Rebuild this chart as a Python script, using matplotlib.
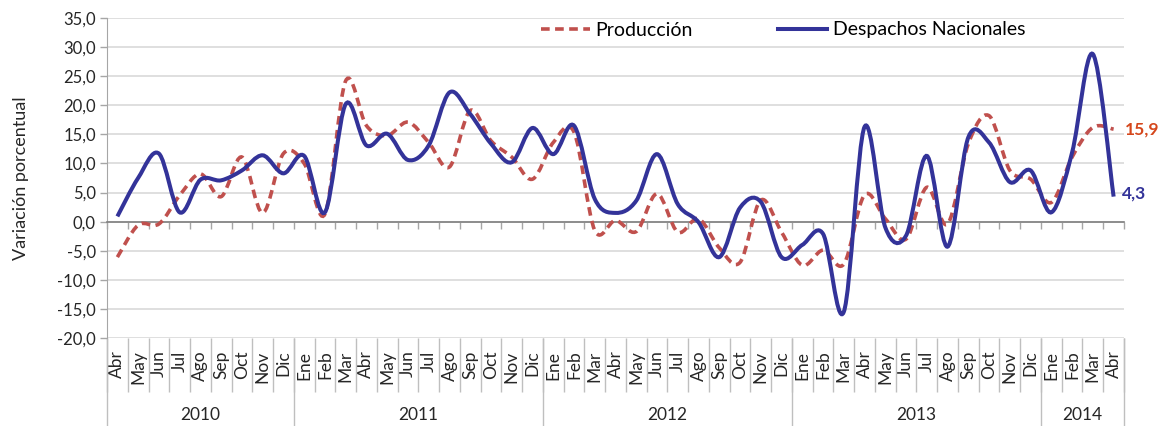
import numpy as np
import matplotlib
matplotlib.use('Agg')
import matplotlib.pyplot as plt
from matplotlib.path import Path
from matplotlib.patches import PathPatch
from matplotlib.lines import Line2D

plt.rcParams['font.family'] = ['Lato', 'DejaVu Sans']

# ------------------------------------------------------------------
# Data (variación porcentual, Abr 2010 - Abr 2014)
# ------------------------------------------------------------------
months = ['Abr', 'May', 'Jun', 'Jul', 'Ago', 'Sep', 'Oct', 'Nov', 'Dic',
          'Ene', 'Feb', 'Mar', 'Abr', 'May', 'Jun', 'Jul', 'Ago', 'Sep', 'Oct', 'Nov', 'Dic',
          'Ene', 'Feb', 'Mar', 'Abr', 'May', 'Jun', 'Jul', 'Ago', 'Sep', 'Oct', 'Nov', 'Dic',
          'Ene', 'Feb', 'Mar', 'Abr', 'May', 'Jun', 'Jul', 'Ago', 'Sep', 'Oct', 'Nov', 'Dic',
          'Ene', 'Feb', 'Mar', 'Abr']
years = ['2010', '2011', '2012', '2013', '2014']
months_per_year = [9, 12, 12, 12, 4]

produccion = [-6.1, -0.6, -0.4, 4.5, 8.2, 4.3, 11.1, 1.5, 11.7,
              10.0, 1.3, 24.2, 16.5, 14.8, 17.1, 13.6, 9.4, 19.1, 13.9, 11.1, 7.3,
              13.6, 15.4, -1.5, 0.2, -1.7, 4.8, -1.8, 0.5, -4.5, -7.0, 3.7, -1.8,
              -7.5, -4.9, -7.3, 4.6, 0.5, -3.0, 5.9, -0.4, 13.4, 18.2, 8.8, 7.3,
              3.3, 11.1, 16.2, 15.9]
despachos = [0.9, 7.5, 11.7, 1.6, 7.2, 7.1, 8.8, 11.4, 8.3,
             11.3, 1.6, 20.2, 13.1, 15.1, 10.6, 13.1, 22.2, 18.5, 13.4, 10.2, 16.1,
             11.6, 16.5, 3.9, 1.5, 3.6, 11.6, 3.0, -0.1, -6.1, 2.4, 3.4, -6.1,
             -4.0, -2.1, -15.5, 16.3, -1.0, -2.4, 11.3, -4.3, 14.5, 13.6, 6.8, 8.8,
             1.6, 11.9, 28.8, 4.3]

RED = '#C0504D'
BLUE = '#333399'
LABEL_RED = '#D5471C'
TXT = '#262626'


def smooth_path(xs, ys):
    # Excel-style smoothed line: cubic bezier through every point
    pts = np.column_stack([xs, ys]).astype(float)
    ext = np.vstack([pts[0], pts, pts[-1]])
    verts = [pts[0]]
    codes = [Path.MOVETO]
    for i in range(len(pts) - 1):
        p0, p1, p2, p3 = ext[i], ext[i + 1], ext[i + 2], ext[i + 3]
        verts += [p1 + (p2 - p0) / 6, p2 - (p3 - p1) / 6, p2]
        codes += [Path.CURVE4] * 3
    return Path(verts, codes)


x = np.arange(len(months))

fig = plt.figure(figsize=(11.64, 4.26), dpi=100)
ax = fig.add_axes([107 / 1164, 88 / 426, (1124 - 107) / 1164, 320 / 426])

ax.set_xlim(-0.5, len(months) - 0.5)
ax.set_ylim(-20, 35)
ax.set_yticks(np.arange(-20, 36, 5))
ax.set_yticklabels([f'{v:.1f}'.replace('.', ',') for v in np.arange(-20, 36, 5)], fontsize=12)
ax.grid(axis='y', color='#D9D9D9', linewidth=1.2)
ax.set_axisbelow(True)
ax.tick_params(axis='y', length=5, width=1, color='#A6A6A6', pad=3, labelcolor=TXT)

for s in ['top', 'right']:
    ax.spines[s].set_visible(False)
ax.spines['left'].set_color('#A6A6A6')
ax.spines['bottom'].set_position(('data', 0))
ax.spines['bottom'].set_color('#808080')
ax.spines['bottom'].set_linewidth(1.2)
ax.set_xticks(np.arange(-0.5, len(months), 1.0))
ax.set_xticklabels([])
ax.tick_params(axis='x', length=5, width=1, color='#A6A6A6', direction='out')

# series
ax.add_patch(PathPatch(smooth_path(x, produccion), fill=False, edgecolor=RED,
                       linewidth=2.6, linestyle=(0, (2.4, 1.5)), capstyle='butt', zorder=3))
ax.add_patch(PathPatch(smooth_path(x, despachos), fill=False, edgecolor=BLUE,
                       linewidth=2.9, zorder=4))

# end labels
ax.annotate(f'{produccion[-1]:.1f}'.replace('.', ','), (x[-1], produccion[-1]),
            xytext=(8, 0), textcoords='offset points', va='center', ha='left',
            color=LABEL_RED, fontsize=12.5, fontweight='bold', annotation_clip=False)
ax.annotate(f'{despachos[-1]:.1f}'.replace('.', ','), (x[-1], despachos[-1]),
            xytext=(6, 2), textcoords='offset points', va='center', ha='left',
            color=BLUE, fontsize=12.5, fontweight='bold', annotation_clip=False)

ax.set_ylabel('Variación porcentual', fontsize=13, color=TXT, labelpad=20)

# month row
sec_m = ax.secondary_xaxis(0)
sec_m.set_xticks(x)
sec_m.set_xticklabels(months, rotation=90, fontsize=12.5, color=TXT)
sec_m.set_xticks(np.arange(-0.5, len(months), 1.0), minor=True)
sec_m.tick_params(axis='x', which='major', length=0, pad=9)
sec_m.tick_params(axis='x', which='minor', length=39, width=1, color='#BFBFBF')
sec_m.spines['bottom'].set_visible(False)

# year row
bounds = np.concatenate([[0], np.cumsum(months_per_year)]) - 0.5
centers = (bounds[:-1] + bounds[1:]) / 2
sec_y = ax.secondary_xaxis(0)
sec_y.set_xticks(bounds)
sec_y.set_xticklabels([])
sec_y.tick_params(axis='x', which='major', length=64, width=1, color='#BFBFBF')
sec_y.set_xticks(centers, minor=True)
sec_y.set_xticklabels(years, minor=True, fontsize=12.5, color=TXT)
sec_y.tick_params(axis='x', which='minor', length=0, pad=50)
sec_y.spines['bottom'].set_visible(False)

# legend
handles = [Line2D([], [], color=RED, linewidth=2.6, linestyle=(0, (2.4, 1.5))),
           Line2D([], [], color=BLUE, linewidth=2.9)]
fig.legend(handles, ['Producción', 'Despachos Nacionales'], ncol=2, frameon=False,
           loc='center left', bbox_to_anchor=(541 / 1164, 1 - 30 / 426),
           fontsize=14, handlelength=2.5, handletextpad=0.3, columnspacing=4.4,
           borderpad=0, borderaxespad=0)

fig.savefig('out.png', dpi=100)
